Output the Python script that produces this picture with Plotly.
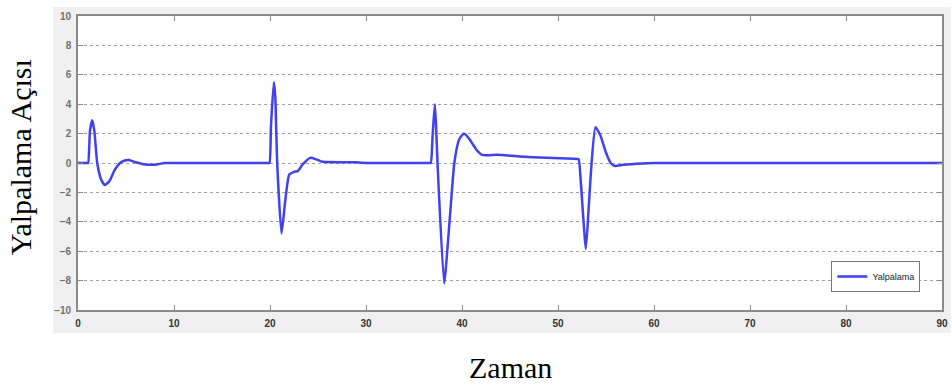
import plotly.graph_objects as go

# Yaw angle response over time
zaman = [0, 0.9, 1.05, 1.25, 1.48, 1.7, 2.0, 2.4, 2.8, 3.3, 3.8, 4.3, 4.8, 5.3, 6.0, 7.0, 8.2, 9.0, 9.3,
         19.6, 19.8, 19.95, 20.1, 20.4, 20.55, 20.75, 21.2, 21.6, 22.0, 22.5, 22.9, 23.4, 24.2, 24.8, 25.5,
         29.0, 30.0, 30.4,
         36.4, 36.6, 36.75, 36.95, 37.17, 37.3, 37.45, 38.14, 38.7, 39.2, 39.7, 40.2, 40.8, 41.5, 42.1, 43.7, 46.0,
         48.8, 51.7, 52.0, 52.15, 52.4, 52.9, 53.2, 53.5, 53.9, 54.4, 55.0, 55.5, 55.9, 56.8, 58.8, 60.0, 60.5,
         89.5, 90.0]
yalpalama = [0, 0, 0, 2.2, 2.9, 2.2, 0, -1.1, -1.5, -1.2, -0.5, -0.05, 0.15, 0.2, 0.05, -0.1, -0.1, 0, 0,
             0, 0, 0, 2.5, 5.5, 4.5, 0, -4.8, -2.5, -0.8, -0.6, -0.55, -0.1, 0.35, 0.25, 0.08,
             0.05, 0, 0,
             0, 0, 0, 2.0, 4.0, 2.5, 0, -8.2, -4.0, 0, 1.6, 2.0, 1.6, 0.9, 0.55, 0.56, 0.45,
             0.35, 0.29, 0.28, 0.27, -1.5, -5.85, -3.0, 0, 2.44, 1.9, 0.7, 0.0, -0.2, -0.12, -0.03, 0, 0,
             0, 0]

x_ticks = [0, 10, 20, 30, 40, 50, 60, 70, 80, 90]
y_ticks = [-10, -8, -6, -4, -2, 0, 2, 4, 6, 8, 10]

fig = go.Figure()
fig.add_trace(go.Scatter(
    x=zaman, y=yalpalama, mode="lines", name="Yalpalama",
    line=dict(color="rgb(65,65,238)", width=2.5, shape="spline", smoothing=0.5),
))

# light grey panel behind the axes, white plotting area on top of it
fig.add_shape(type="rect", xref="paper", yref="paper",
              x0=-0.0287, x1=1.01, y0=-0.078, y1=1.031,
              fillcolor="#f0f0f0", line_width=0, layer="below")
fig.add_shape(type="rect", xref="paper", yref="paper",
              x0=0, x1=1, y0=0, y1=1,
              fillcolor="white", line_width=0, layer="below")

axis_common = dict(
    showline=True, linecolor="#8a8a8a", linewidth=1.6, mirror="ticks",
    ticks="inside", ticklen=5, tickcolor="#8a8a8a", zeroline=False,
)

fig.update_xaxes(range=[0, 90], tickvals=x_ticks, showgrid=False, ticklabelstandoff=3,
                 tickfont=dict(family="Liberation Sans", size=10, color="#333333", weight="bold"),
                 **axis_common)
fig.update_yaxes(range=[-10, 10], tickvals=y_ticks, showgrid=True, ticklabelstandoff=3,
                 gridcolor="#a0a0a0", griddash="dot", gridwidth=1.3,
                 tickfont=dict(family="Liberation Sans", size=10, color="#707070", weight="bold"),
                 **axis_common)

fig.add_annotation(text="Yalpalama Açısı", xref="paper", yref="paper",
                   x=-0.067, y=0.52, textangle=-90, showarrow=False,
                   xanchor="center", yanchor="middle",
                   font=dict(family="Liberation Serif", size=30, color="#000000"))
fig.add_annotation(text="Zaman", xref="paper", yref="paper",
                   x=0.5, y=-0.195, showarrow=False,
                   xanchor="center", yanchor="middle",
                   font=dict(family="Liberation Serif", size=30, color="#000000"))

fig.update_layout(
    width=952, height=385,
    margin=dict(l=78, r=4, t=16, b=75),
    paper_bgcolor="white", plot_bgcolor="rgba(0,0,0,0)",
    showlegend=True,
    legend=dict(x=0.975, y=0.061, xanchor="right", yanchor="bottom",
                bgcolor="white", bordercolor="#777777", borderwidth=1,
                font=dict(family="Liberation Sans", size=9, color="#222222")),
)

fig.write_html("out.html")
